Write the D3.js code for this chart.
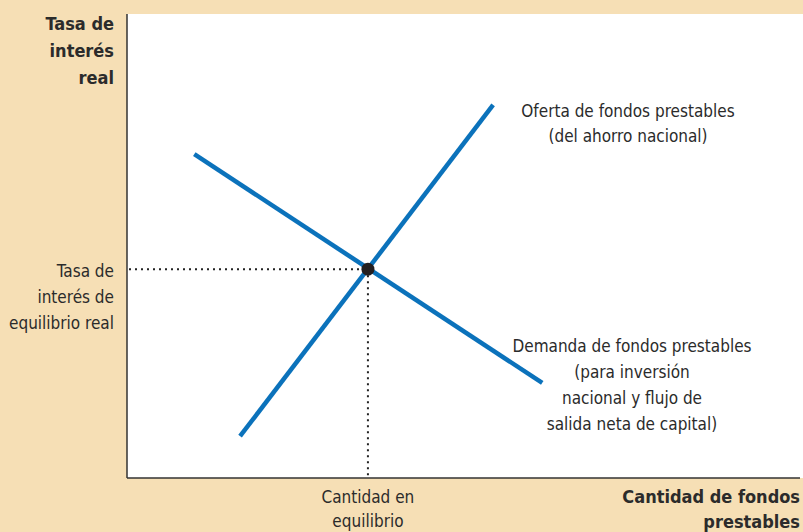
<!DOCTYPE html>
<html>
<head>
<meta charset="utf-8">
<script src="https://cdn.jsdelivr.net/npm/d3@7"></script>
<style>
  body { margin: 0; background: #f6dfb5; }
  text { font-family: "Liberation Sans Narrow", "DejaVu Sans Condensed", sans-serif; fill: #2b2b2b; }
</style>
</head>
<body>
<div id="grafico"></div>
<script>
const width = 803
const height = 532

// datos (unidades abstractas 0..100)
const oferta = [{x: 16.8, y: 9.0}, {x: 54.4, y: 80.4}]
const demanda = [{x: 10.0, y: 69.8}, {x: 61.7, y: 20.5}]
const equilibrio = {x: 35.8, y: 45.0}

const ejeY = ["Tasa de", "interés", "real"]
const ejeX = ["Cantidad de fondos", "prestables"]
const etiquetaTasa = ["Tasa de", "interés de", "equilibrio real"]
const etiquetaCantidad = ["Cantidad en", "equilibrio"]
const etiquetaOferta = ["Oferta de fondos prestables", "(del ahorro nacional)"]
const etiquetaDemanda = ["Demanda de fondos prestables", "(para inversión", "nacional y flujo de", "salida neta de capital)"]

const x = d3.scaleLinear().domain([0, 100]).range([127, 800])
const y = d3.scaleLinear().domain([0, 100]).range([478, 14])

const svg = d3.select("#grafico")
  .append("svg")
  .attr("width", width)
  .attr("height", height)

svg.append("rect")
  .attr("width", width).attr("height", height)
  .attr("fill", "#f6dfb5")

svg.append("rect")
  .attr("x", x(0)).attr("y", y(100))
  .attr("width", width - x(0)).attr("height", y(0) - y(100))
  .attr("fill", "white")

// ejes
svg.append("line")
  .attr("x1", x(0)).attr("x2", x(0))
  .attr("y1", y(100)).attr("y2", y(0))
  .attr("stroke", "#333").attr("stroke-width", 1.5)
svg.append("line")
  .attr("x1", x(0)).attr("x2", x(100))
  .attr("y1", y(0)).attr("y2", y(0))
  .attr("stroke", "#333").attr("stroke-width", 1.5)

// líneas punteadas
svg.append("line")
  .attr("x1", x(0) + 2).attr("x2", x(equilibrio.x))
  .attr("y1", y(equilibrio.y)).attr("y2", y(equilibrio.y))
  .attr("stroke", "#222").attr("stroke-width", 2)
  .attr("stroke-dasharray", "2,4")
svg.append("line")
  .attr("x1", x(equilibrio.x)).attr("x2", x(equilibrio.x))
  .attr("y1", y(equilibrio.y)).attr("y2", y(0))
  .attr("stroke", "#222").attr("stroke-width", 2)
  .attr("stroke-dasharray", "2,4")

const linea = d3.line().x(d => x(d.x)).y(d => y(d.y))

svg.selectAll("path.curva")
  .data([oferta, demanda])
  .join("path")
    .attr("class", "curva")
    .attr("d", linea)
    .attr("fill", "none")
    .attr("stroke", "#0b72bb")
    .attr("stroke-width", 4.5)

svg.append("circle")
  .attr("cx", x(equilibrio.x)).attr("cy", y(equilibrio.y))
  .attr("r", 6.5)
  .attr("fill", "#231f20")

const bloque = (lineas, px, py, salto, anchor, opts = {}) => {
  const t = svg.append("text")
    .attr("text-anchor", anchor)
    .attr("font-size", opts.size || 17)
    .attr("font-weight", opts.bold ? "bold" : "normal")
  t.selectAll("tspan")
    .data(lineas)
    .join("tspan")
      .attr("x", px)
      .attr("y", (d, i) => py + i * salto)
      .text(d => d)
}

bloque(ejeY, 114, 30, 27, "end", {bold: true, size: 18})
bloque(etiquetaTasa, 114, 277, 26, "end")
bloque(etiquetaCantidad, x(equilibrio.x), 503, 24, "middle")
bloque(ejeX, 800, 503, 25, "end", {bold: true, size: 18})
bloque(etiquetaOferta, 628, 117, 25, "middle")
bloque(etiquetaDemanda, 632, 352, 26, "middle")
</script>
</body>
</html>
